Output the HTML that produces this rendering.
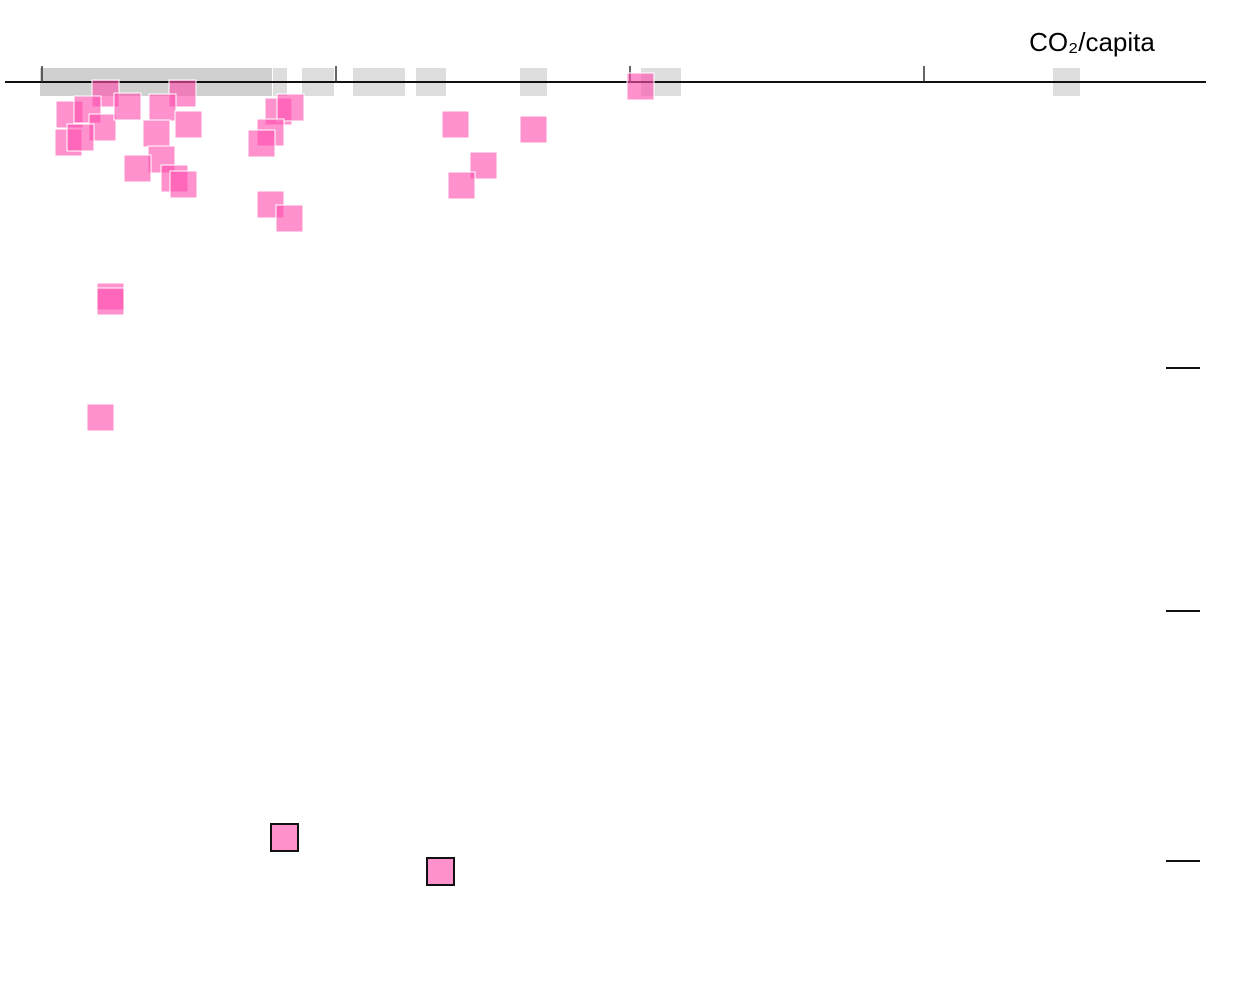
<!DOCTYPE html>
<html><head><style>body{margin:0;background:#fff}svg{display:block}</style></head><body>
<svg width="1240" height="988" xmlns="http://www.w3.org/2000/svg">
<rect x="40" y="68" width="232" height="28" fill="#d0d0d0"/>
<g fill="#c8c8c8" opacity="0.6">
<rect x="273" y="68" width="14" height="28"/>
<rect x="302" y="68" width="32" height="28"/>
<rect x="353" y="68" width="52" height="28"/>
<rect x="416" y="68" width="30" height="28"/>
<rect x="419" y="68" width="24" height="28" opacity="0.5"/>
<rect x="520" y="68" width="27" height="28"/>
<rect x="641" y="68" width="40" height="28"/>
<rect x="1053" y="68" width="27" height="28"/>
</g>
<line x1="5" y1="82" x2="1206" y2="82" stroke="#111" stroke-width="2"/>
<g stroke="#333" stroke-width="1.5">
<line x1="42" y1="66" x2="42" y2="82"/><line x1="336" y1="66" x2="336" y2="82"/>
<line x1="630" y1="66" x2="630" y2="82"/><line x1="924" y1="66" x2="924" y2="82"/>
</g>
<text x="1092" y="51" font-family="Liberation Sans, sans-serif" font-size="26" text-anchor="middle">CO₂/capita</text>
<g fill="#ff4fae" fill-opacity="0.62" stroke="#fff" stroke-width="1">
<rect x="92" y="80" width="27" height="27"/>
<rect x="169" y="80" width="27" height="27"/>
<rect x="56" y="101" width="27" height="27"/>
<rect x="74" y="96" width="27" height="27"/>
<rect x="89" y="114" width="27" height="27"/>
<rect x="114" y="93" width="27" height="27"/>
<rect x="149" y="94" width="27" height="27"/>
<rect x="175" y="111" width="27" height="27"/>
<rect x="55" y="129" width="27" height="27"/>
<rect x="67" y="124" width="27" height="27"/>
<rect x="143" y="120" width="27" height="27"/>
<rect x="148" y="146" width="27" height="27"/>
<rect x="124" y="155" width="27" height="27"/>
<rect x="161" y="165" width="27" height="27"/>
<rect x="170" y="171" width="27" height="27"/>
<rect x="265" y="98" width="27" height="27"/>
<rect x="277" y="94" width="27" height="27"/>
<rect x="257" y="119" width="27" height="27"/>
<rect x="248" y="130" width="27" height="27"/>
<rect x="257" y="191" width="27" height="27"/>
<rect x="276" y="205" width="27" height="27"/>
<rect x="442" y="111" width="27" height="27"/>
<rect x="520" y="116" width="27" height="27"/>
<rect x="470" y="152" width="27" height="27"/>
<rect x="448" y="172" width="27" height="27"/>
<rect x="627" y="73" width="27" height="27"/>
<rect x="97" y="283" width="27" height="27"/>
<rect x="97" y="288" width="27" height="27"/>
<rect x="87" y="404" width="27" height="27"/>
</g>
<g fill="#ff4fae" fill-opacity="0.62" stroke="#111" stroke-width="2">
<rect x="271" y="824" width="27" height="27"/>
<rect x="427" y="858" width="27" height="27"/>
</g>
<g stroke="#111" stroke-width="2">
<line x1="1166" y1="368" x2="1200" y2="368"/>
<line x1="1166" y1="611" x2="1200" y2="611"/>
<line x1="1166" y1="861" x2="1200" y2="861"/>
</g>
</svg>
</body></html>
